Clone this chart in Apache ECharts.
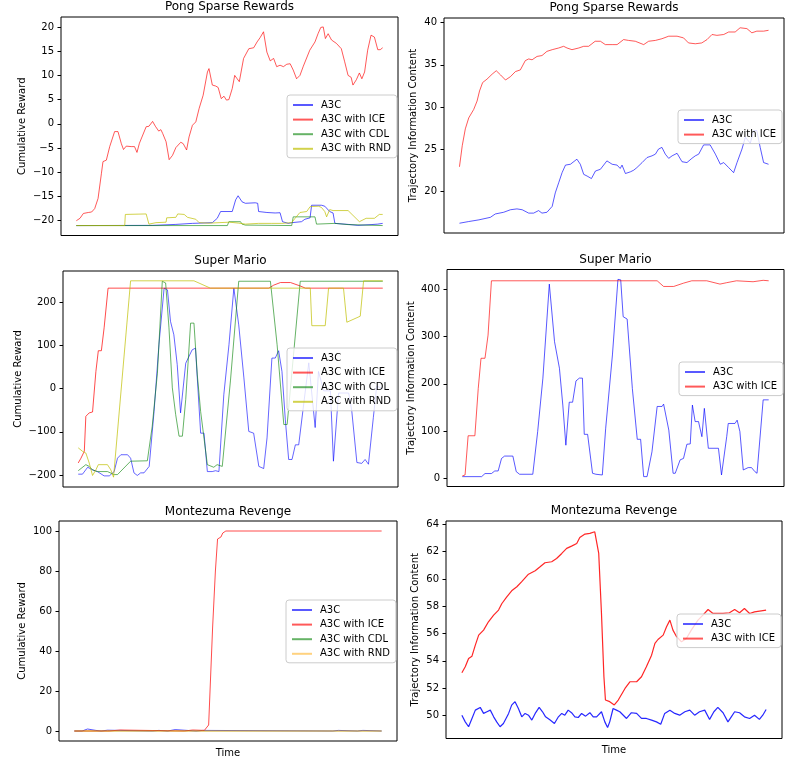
<!DOCTYPE html>
<html>
<head>
<meta charset="utf-8">
<script src="https://cdn.jsdelivr.net/npm/echarts@6/dist/echarts.min.js"></script>
<style>
  html, body { margin: 0; padding: 0; background: #fff; }
  #container { width: 791px; height: 764px; }
</style>
</head>
<body>
<div id="container"></div>
<script>
  var FONT = 'DejaVu Sans';

  // ---- Pong Sparse Rewards : cumulative reward ([time %, value]) ----
  var pongRewardA3C = [[0,-21],[25,-20.96],[32.5,-20.76],[37.9,-20.55],[44.4,-20.4],[46,-19.5],[47.1,-18.1],[50.9,-18.1],[52,-15.7],[52.8,-14.85],[54.1,-16.1],[55.2,-16.4],[58.4,-16.3],[59.2,-16.4],[59.5,-18.1],[62.2,-18.3],[64.9,-18.4],[66.5,-18.35],[67.3,-20.2],[69.2,-20.55],[70.3,-20.4],[73.5,-20.2],[74.6,-19.7],[76.3,-19.4],[76.8,-16.8],[77.3,-16.6],[80,-16.8],[81.1,-17.0],[82.7,-18.1],[83.8,-18.4],[84.4,-20.55],[88.7,-20.76],[91.9,-20.96],[96.2,-20.8],[98.4,-20.7],[100,-20.55]];
  var pongRewardICE = [[0,-20],[1.2,-19.5],[2.3,-18.5],[3.9,-18.3],[5,-18.2],[6,-17.5],[7.1,-15.4],[8.2,-10.2],[8.7,-7.8],[9.8,-7.5],[10.9,-4.7],[12.5,-1.6],[13.6,-1.6],[14.7,-4.1],[15.4,-5.3],[16.3,-4.6],[17.9,-4.7],[19,-4.7],[19.8,-5.9],[20.6,-4],[22.8,-0.6],[23.7,-0.5],[24.9,0.5],[25.8,-0.5],[26.9,-1.5],[27.6,-1.2],[28.2,-2],[29.3,-3.7],[30.3,-7.4],[31.4,-6.5],[32.5,-4.9],[34.1,-3.8],[34.9,-4.1],[36,-5.4],[36.8,-2.7],[37.9,-0.3],[39,0.4],[40.1,3.2],[41.4,5.9],[42.8,10.7],[43.3,11.4],[44.4,8],[45.5,7.8],[46.3,7.5],[47.3,5.2],[48.2,5.7],[49,4.9],[49.8,5],[50.9,7.3],[51.7,10],[52.5,9.3],[53.2,8.7],[54.6,13.5],[56.3,15.5],[57.9,15.7],[59,16.9],[60,17.8],[61.1,19],[62.2,14.8],[63.3,13],[64.4,13.5],[65.4,11.8],[66.5,12.1],[67.6,11.8],[68.7,12.3],[69.8,12.4],[70.8,11.1],[71.9,9.3],[73,10],[74.1,11.9],[74.6,11.8],[76.2,15.2],[77.9,16.9],[78.9,18.6],[79.8,19.9],[80.6,20],[81.3,17.6],[82.2,18.6],[83.3,17.3],[84.9,16.6],[86.5,15.5],[87.6,12.8],[88.7,10],[89.7,9.6],[90.3,8],[91.4,9.1],[92.4,10.5],[93.2,9.3],[94.1,10.7],[95.1,15.2],[96.2,18.3],[97.3,17.9],[98.4,15.3],[99.2,15.3],[100,15.7]];
  var pongRewardCDL = [[0,-21],[49.3,-21],[49.8,-20.2],[53.6,-20.2],[54.1,-20.7],[55.2,-20.9],[70.3,-21],[70.8,-19.2],[77.9,-19.2],[78.4,-20.7],[84.4,-20.55],[88.7,-20.8],[100,-21]];
  var pongRewardRND = [[0,-21],[15.8,-21],[16,-18.7],[22.8,-18.6],[23.7,-20.7],[26,-20.4],[29.3,-20.3],[29.5,-19.4],[32.5,-19.3],[33.1,-18.6],[35.2,-18.7],[36.3,-19.3],[39,-19.7],[40.1,-20.4],[43.3,-20.5],[46.6,-20.4],[50,-20.3],[53,-20.5],[55.2,-20.7],[59.5,-20.55],[63.8,-20.55],[67.1,-20.55],[70.3,-20.4],[71.4,-19.5],[73,-18.3],[75.2,-18.1],[76.3,-17.1],[79,-17.0],[80,-17.25],[81.1,-18.1],[81.7,-19.2],[82.7,-17.7],[83.8,-17.9],[88.7,-17.9],[92.4,-20.2],[94.6,-19.5],[97.3,-19.5],[98.9,-18.7],[100,-18.7]];

  // ---- Pong Sparse Rewards : trajectory information content ----
  var pongInfoA3C = [[0,16.2],[3,16.4],[6.3,16.6],[10,16.9],[11.6,17.3],[14.3,17.5],[16.5,17.8],[18.6,17.9],[20.3,17.8],[22.4,17.4],[24,17.4],[25.6,17.7],[26.7,17.4],[28.3,17.5],[30,18.2],[31,19.8],[32.1,21],[33.2,22.2],[34.3,23.1],[35.9,23.2],[38,23.8],[39.1,23.2],[40.2,22],[41.3,21.8],[42.7,21.5],[44,22.4],[45.6,22.6],[47.7,23.6],[49.4,23.2],[51,23.1],[52,22.7],[52.6,23.1],[53.7,22.1],[55.3,22.3],[56.4,22.5],[57.4,22.8],[59.1,23.4],[60.7,24],[62.3,24.2],[63.4,24.4],[64.4,25],[65.5,25.2],[66.6,24.4],[67.7,23.9],[68.8,24.2],[70.4,24.5],[72,23.5],[73.6,23.4],[75.2,23.9],[76.3,24.2],[77.4,24.4],[79,25.5],[81.1,25.5],[82.8,24.4],[84.4,23.2],[85.5,23.4],[87.1,22.8],[88.7,22.2],[89.8,23.4],[91.4,25],[92.5,26.4],[94.1,25.7],[95.2,27.2],[96.2,27.2],[97.3,25.2],[98.4,23.4],[100,23.2]];
  var pongInfoICE = [[0,22.9],[0.9,25.4],[1.9,27.4],[3,28.7],[4.6,29.7],[5.7,30.7],[6.5,31.9],[7.5,32.9],[8.9,33.3],[10.6,33.9],[11.9,34.3],[13.3,33.8],[14.9,33.2],[16.5,33.6],[18.1,34.2],[19.7,34.4],[21.3,35.5],[22.4,35.7],[23.5,35.6],[25.1,36],[26.7,36.1],[28.3,36.6],[30,36.8],[32.1,37],[33.7,37.2],[34.8,37],[36.4,36.8],[38.6,37],[40.2,37.2],[41.8,37.2],[43.9,37.8],[45.6,37.8],[47.2,37.4],[49.4,37.4],[51,37.4],[53.1,38],[54.7,37.9],[56.9,37.8],[59.6,37.4],[61.2,37.8],[63.4,37.9],[65.5,38.1],[67.7,38.4],[70.4,38.4],[72.5,38.2],[74.1,37.6],[76.3,37.5],[78.4,37.6],[80.1,38],[81.7,38.6],[83.3,38.5],[85.5,38.6],[87.1,38.9],[89.2,38.9],[90.8,39.4],[93,39.3],[94.6,38.8],[96.2,39],[98.4,39],[100,39.1]];

  // ---- Super Mario : cumulative reward ----
  var marioRewardA3C = [[0,-198],[1.4,-198],[3.1,-182],[4.7,-188],[6.3,-192],[8.5,-202],[10.2,-202],[11.8,-192],[12.9,-161],[14,-153],[16.2,-153],[17.2,-161],[18.3,-195],[19.4,-201],[20.5,-195],[21.6,-195],[23.3,-180],[24.9,-53],[26.5,102],[28.2,233],[29.3,229],[30.3,156],[31.4,125],[32.5,56],[33.6,-56],[35.3,59],[35.8,56],[37.4,90],[38.5,94],[40.2,-103],[41.3,-103],[42.4,-192],[44,-192],[45.1,-190],[46.2,-192],[47.8,-14],[49.5,102],[51.1,233],[51.6,233],[52.7,148],[53.3,148],[54.4,25],[56,-99],[57.6,-103],[59.3,-180],[60.9,-185],[62,-114],[63.6,71],[64.7,71],[65.8,88],[66.9,40],[68,-72],[69.1,-164],[70.2,-164],[71.3,-130],[72.4,-130],[75.7,60],[77.8,-90],[78.9,40],[80.6,-5],[82.8,-5],[83.8,-168],[85.5,-10],[88.8,-10],[89.8,-50],[91.5,-171],[93.1,-173],[94.2,-164],[95.3,-175],[96.9,-67],[98,6],[100,0]];
  var marioRewardICE = [[0,-172],[0.9,-161],[2,-145],[2.5,-64],[3.6,-56],[4.7,-54],[5.8,40],[6.6,88],[7.6,88],[8.5,141],[9.8,233],[62.6,233],[64.2,240],[66.4,246],[69.7,246],[72.9,238],[74.6,233],[100,233]];
  var marioRewardCDL = [[0,-190],[2.5,-176],[3.6,-180],[4.7,-188],[6.3,-192],[9.6,-192],[11.8,-199],[12.9,-199],[17.2,-168],[22.7,-167],[24.3,-87],[26,36],[27.6,249],[28.7,245],[29.8,141],[30.9,2],[32,-60],[33.1,-110],[34.2,-110],[35.3,-25],[36.9,152],[38,152],[39.1,32],[40.2,-53],[42.4,-176],[44.5,-182],[45.6,-176],[47.3,-180],[47.6,-182],[50,20],[52.7,249],[63.1,249],[65.3,102],[67.5,-83],[68.6,-83],[72.9,249],[100,249]];
  var marioRewardRND = [[0,-137],[1.4,-145],[2.5,-149],[3.6,-172],[4.7,-201],[5.8,-188],[6.6,-176],[9.6,-176],[10.7,-188],[11.6,-205],[17.2,250],[38,250],[43.4,233],[76.2,233],[76.7,146],[81.1,146],[82.2,233],[87.1,233],[88.2,154],[92.6,168],[93.7,250],[100,250]];

  // ---- Super Mario : trajectory information content ----
  var marioInfoA3C = [[0,3.5],[6.3,3.5],[7.4,10],[9.5,10],[10.6,15.5],[11.7,15.5],[12.8,42],[13.8,47],[16.5,47],[17.6,14],[18.7,8.5],[23,8.5],[24.6,99],[26.3,212],[28.4,411],[30.1,289],[31.7,233],[32.8,155],[33.8,70],[34.9,161],[36,161],[37.1,206],[38.2,212],[39.2,212],[39.8,93],[40.9,93],[42.5,10.6],[43.6,8.5],[45.7,7],[46.8,106],[49,261],[50.8,421],[51.7,420],[52.5,342],[53.8,337],[55.5,190],[57.1,82.5],[58.2,82.5],[59.2,3.5],[60.3,3.5],[61.9,56],[63.6,152],[65.2,152],[65.7,157],[67.4,102],[68.8,10.6],[69.5,10.6],[71.1,39],[72.2,42],[73.3,72],[74.4,72.7],[75.1,155],[76,120],[77.1,120],[78.2,88],[79,148],[80.3,63.5],[83.6,63.5],[84.6,7],[86.3,88],[86.8,116],[89,116],[89.7,123],[90.6,99],[91.7,17.6],[93.3,22.6],[94.4,22.6],[95.5,14],[96.2,10.6],[98.2,166],[100,166]];
  var marioInfoICE = [[0,5],[0.9,7],[1.9,90],[4.1,90],[5.2,190],[6.1,254],[7.4,254],[8.4,303],[9.5,418],[63.6,418],[65.7,406],[69,406],[72.2,413],[74.9,418],[79.8,418],[84.1,411],[86.3,414],[89.5,418],[94.9,416],[98.2,419],[100,418]];

  // ---- Montezuma Revenge : cumulative reward ----
  var montezumaRewardA3C = [[0,0],[2.5,0],[2.8,1],[4.3,1],[4.6,0.3],[7,0.3],[7.3,0],[8.7,0],[9,0.4],[10.8,0.4],[11.1,0],[25.4,0],[25.7,0.3],[27.5,0.3],[27.8,0],[30.4,0],[30.7,0.7],[32.8,0.7],[33.1,0],[39.6,0],[39.9,0.3],[41.8,0.3],[42.1,0],[84.1,0],[84.4,0.3],[85.9,0.3],[86.2,0],[92.1,0],[92.4,0.3],[93.9,0.3],[94.2,0],[100,0]];
  var montezumaRewardICE = [[0,0],[11.4,0],[11.7,0.5],[14.9,0.5],[15.2,0],[35.8,0],[36.1,0.5],[38.5,0.5],[38.8,0],[42.3,0.3],[42.8,1.3],[43.7,3],[44.1,18],[45,52],[45.9,80],[46.6,96],[47.7,97],[48.3,99],[49.3,100],[100,100]];
  var montezumaRewardCDL = [[0,0],[100,0]];
  var montezumaRewardRND = [[0,0],[100,0]];

  // ---- Montezuma Revenge : trajectory information content ----
  var montezumaInfoA3C = [[0.2,50.01],[1.3,49.52],[2.4,49.16],[3.5,49.77],[4.6,50.38],[6.2,50.58],[7.3,50.14],[8.4,50.26],[9.5,50.38],[10.6,49.89],[11.6,49.52],[12.7,49.16],[13.8,49.4],[15.5,50.14],[16.5,50.75],[17.6,51],[18.7,50.5],[19.8,49.89],[20.9,50.14],[22,50.01],[23.1,49.65],[24.2,50.14],[25.5,50.58],[26.6,50.26],[27.6,49.89],[29.1,49.65],[30.5,49.4],[31.8,49.89],[32.9,50.14],[33.9,50.01],[35,50.38],[36.1,50.19],[37.2,49.89],[38.3,49.84],[39.4,50.14],[40.7,49.94],[42.1,50.19],[43.2,49.89],[44.3,49.89],[45.9,50.26],[47,49.52],[47.9,49.11],[48.6,49.52],[49.7,50.5],[50.8,50.38],[51.9,50.26],[52.5,50.14],[54.1,49.77],[55.7,50.19],[57.4,50.14],[59,49.77],[60.6,49.77],[62.3,49.65],[63.9,49.52],[65.3,49.35],[66.6,50.14],[68.3,50.38],[69.9,50.14],[71.5,50.01],[73.2,50.26],[74.8,50.38],[76.4,50.01],[78,50.26],[79.7,50.38],[81.3,49.7],[82.7,50.26],[84,50.58],[85.7,50.19],[87.3,49.52],[88.4,49.89],[89.5,50.26],[91.1,50.19],[92.7,49.89],[94.4,49.77],[96,50.01],[97.6,49.7],[98.7,50.01],[99.8,50.43]];
  var montezumaInfoICE = [[0.2,53.12],[1.3,53.56],[2.4,54.17],[3.5,54.34],[4.6,55.15],[5.7,55.88],[7.3,56.25],[8.9,56.86],[10.6,57.35],[12.2,57.72],[13.3,58.2],[14.9,58.69],[16.5,59.13],[18.2,59.43],[19.8,59.8],[22,60.35],[24.2,60.6],[25.8,60.89],[27.4,61.19],[29.6,61.26],[31.2,61.5],[32.9,61.87],[34.5,62.24],[36.1,62.41],[37.8,62.6],[38.8,63.04],[40.5,63.29],[42.1,63.34],[43.7,63.46],[44.3,63.34],[45,61.87],[45.9,57.47],[46.7,52.83],[47.2,51.12],[48.6,51],[50.1,50.76],[51.4,51.12],[51.9,51.24],[53.6,51.97],[55.2,52.46],[57.4,52.46],[59,52.83],[60.6,53.56],[62.3,54.41],[63.4,55.27],[64.4,55.56],[66.1,55.88],[67.2,56.49],[68.3,56.98],[69.3,56.25],[70.4,55.8],[72.1,55.39],[73.7,55.63],[75.3,56.25],[77.5,56.98],[79.1,57.35],[80.8,57.76],[82.4,57.47],[84,57.47],[85.7,57.47],[87.8,57.52],[89.5,57.76],[91.1,57.52],[92.7,57.83],[94.4,57.47],[96,57.59],[98.2,57.66],[99.8,57.71]];

  // ---- tick labels ----
  var pongRewardTicks = [-20, -15, -10, -5, 0, 5, 10, 15, 20];
  var pongInfoTicks = [20, 25, 30, 35, 40];
  var marioRewardTicks = [-200, -100, 0, 100, 200];
  var marioInfoTicks = [0, 100, 200, 300, 400];
  var montezumaRewardTicks = [0, 20, 40, 60, 80, 100];
  var montezumaInfoTicks = [50, 52, 54, 56, 58, 60, 62, 64];

  var titles = ['Pong Sparse Rewards', 'Pong Sparse Rewards', 'Super Mario', 'Super Mario', 'Montezuma Revenge', 'Montezuma Revenge'];
  var names4 = ['A3C', 'A3C with ICE', 'A3C with CDL', 'A3C with RND'];
  var names2 = ['A3C', 'A3C with ICE'];

  var BLUE = '#0000ff', RED = '#ff0000', GREEN = '#008000', YELLOW = '#bfbf00', ORANGE = '#ffa500';

  // grid boxes [left, top, width, height]
  var boxes = [
    [61, 17, 337, 218.5],
    [444, 18, 340, 215],
    [63, 271, 335, 216],
    [447, 269.5, 337, 217],
    [59, 521, 338, 220],
    [446, 521, 336, 217.5]
  ];

  var dom = document.getElementById('container');
  var myChart = echarts.init(dom, null, { renderer: 'canvas' });

  function serie(name, data, color, gi, opacity, width) {
    return {
      type: 'line', name: name, data: data,
      xAxisIndex: gi, yAxisIndex: gi,
      symbol: 'none', showSymbol: false, silent: true,
      color: color,
      lineStyle: { color: color, width: width || 1, opacity: opacity },
      itemStyle: { color: color }
    };
  }

  function yAxisFor(gi, min, max, ticks, name, gap) {
    return {
      type: 'value', gridIndex: gi, min: min, max: max,
      name: name, nameLocation: 'middle', nameGap: gap,
      nameTextStyle: { fontFamily: FONT, fontSize: 10, color: '#000' },
      axisLine: { show: false, onZero: false },
      axisTick: { show: true, length: 3.5, customValues: ticks, lineStyle: { color: '#000', width: 1 } },
      axisLabel: {
        customValues: ticks, fontFamily: FONT, fontSize: 10, color: '#000', margin: 7,
        formatter: function (v) { return String(v).replace('-', '\u2212'); }
      },
      splitLine: { show: false }
    };
  }

  function xAxisFor(gi, withName) {
    return {
      type: 'value', gridIndex: gi, min: -5, max: 105,
      name: withName ? 'Time' : '', nameLocation: 'middle', nameGap: 7,
      nameTextStyle: { fontFamily: FONT, fontSize: 10, color: '#000', verticalAlign: 'top' },
      axisLine: { show: false, onZero: false },
      axisTick: { show: false },
      axisLabel: { show: false },
      splitLine: { show: false }
    };
  }

  function legendAt(left, top, items) {
    return {
      orient: 'vertical', left: left, top: top,
      data: items,
      itemWidth: 20, itemHeight: 10, itemGap: 4.6,
      padding: [5, 6, 4, 5],
      backgroundColor: 'rgba(255,255,255,0.8)',
      borderColor: '#cccccc', borderWidth: 1, borderRadius: 3,
      itemStyle: { opacity: 0 },
      selectedMode: false,
      textStyle: { fontFamily: FONT, fontSize: 10, color: '#000', padding: [0, 0, 0, 3] }
    };
  }

  var titleCenters = [[229.5, 1], [614, 2], [230.5, 255], [615.5, 254], [228, 506], [614, 505]];

  option = {
    animation: false,
    backgroundColor: '#fff',
    title: titles.map(function (t, i) {
      return {
        text: t, left: titleCenters[i][0], top: titleCenters[i][1], padding: 0,
        textAlign: 'center',
        textStyle: { fontFamily: FONT, fontSize: 12, fontWeight: 'normal', color: '#000' }
      };
    }),
    grid: boxes.map(function (b) {
      return { left: b[0], top: b[1], width: b[2], height: b[3], show: true, borderColor: '#000', borderWidth: 1, backgroundColor: 'transparent' };
    }),
    xAxis: [xAxisFor(0), xAxisFor(1), xAxisFor(2), xAxisFor(3), xAxisFor(4, true), xAxisFor(5, true)],
    yAxis: [
      yAxisFor(0, -23.05, 22.05, pongRewardTicks, 'Cumulative Reward', 34),
      yAxisFor(1, 15.04, 40.56, pongInfoTicks, 'Trajectory Information Content', 26),
      yAxisFor(2, -227.75, 272.75, marioRewardTicks, 'Cumulative Reward', 40),
      yAxisFor(3, -17.4, 441.9, marioInfoTicks, 'Trajectory Information Content', 31),
      yAxisFor(4, -5, 105, montezumaRewardTicks, 'Cumulative Reward', 32),
      yAxisFor(5, 48.3, 64.25, montezumaInfoTicks, 'Trajectory Information Content', 26)
    ],
    legend: [
      legendAt(287, 95, names4),
      legendAt(678, 110, names2),
      legendAt(287, 348, names4),
      legendAt(679, 362, names2),
      legendAt(286, 600, [names4[0], names4[1], names4[2], { name: names4[3], lineStyle: { color: ORANGE, opacity: 0.5 } }]),
      legendAt(677, 614, names2)
    ],
    series: [
      serie('A3C', pongRewardA3C, BLUE, 0, 0.65),
      serie('A3C with ICE', pongRewardICE, RED, 0, 0.65),
      serie('A3C with CDL', pongRewardCDL, GREEN, 0, 0.6),
      serie('A3C with RND', pongRewardRND, YELLOW, 0, 0.7),

      serie('A3C', pongInfoA3C, BLUE, 1, 0.65),
      serie('A3C with ICE', pongInfoICE, RED, 1, 0.65),

      serie('A3C', marioRewardA3C, BLUE, 2, 0.6),
      serie('A3C with ICE', marioRewardICE, RED, 2, 0.7),
      serie('A3C with CDL', marioRewardCDL, GREEN, 2, 0.6),
      serie('A3C with RND', marioRewardRND, YELLOW, 2, 0.7),

      serie('A3C', marioInfoA3C, BLUE, 3, 0.65),
      serie('A3C with ICE', marioInfoICE, RED, 3, 0.65),

      serie('A3C', montezumaRewardA3C, BLUE, 4, 0.65),
      serie('A3C with ICE', montezumaRewardICE, RED, 4, 0.7),
      serie('A3C with CDL', montezumaRewardCDL, GREEN, 4, 0.3),
      serie('A3C with RND', montezumaRewardRND, ORANGE, 4, 0.5, 1.6),

      serie('A3C', montezumaInfoA3C, BLUE, 5, 0.85, 1.2),
      serie('A3C with ICE', montezumaInfoICE, RED, 5, 0.85, 1.2)
    ]
  };

  if (option && typeof option === 'object') {
    myChart.setOption(option);
  }

  window.addEventListener('resize', myChart.resize);
</script>
</body>
</html>
